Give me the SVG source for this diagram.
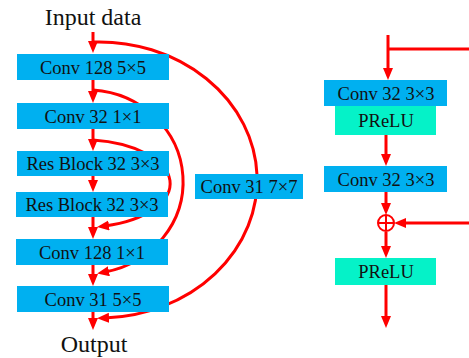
<svg xmlns="http://www.w3.org/2000/svg" width="469" height="358" viewBox="0 0 469 358">
  <style>
    .conv { fill: #00B0F0; }
    .act { fill: #05F2C8; }
    text { font-family: 'Liberation Serif', 'DejaVu Serif', serif; fill: #111; text-anchor: middle; }
    .lbl { font-size: 18.5px; }
    .io { font-size: 24px; }
    .wire { fill: none; stroke: #FF0000; stroke-width: 3; }
    .arr { marker-end: url(#head); }
  </style>
  <defs>
    <marker id="head" markerUnits="userSpaceOnUse" markerWidth="13" markerHeight="11" refX="4" refY="5" orient="auto">
      <path d="M0,0 L12,5 L0,10 z" fill="#FF0000"/>
    </marker>
  </defs>

  <!-- connectors (drawn first so the boxes sit on top) -->
  <g id="connectors">
    <!-- left network: main trunk -->
    <line class="wire arr" x1="93" y1="32" x2="93" y2="45"/>
    <line class="wire arr" x1="93" y1="80" x2="93" y2="95"/>
    <line class="wire arr" x1="93" y1="129" x2="93" y2="143"/>
    <line class="wire arr" x1="93" y1="176" x2="93" y2="184"/>
    <line class="wire arr" x1="93" y1="217" x2="93" y2="231"/>
    <line class="wire arr" x1="93" y1="265" x2="93" y2="278"/>
    <line class="wire arr" x1="93" y1="312" x2="93" y2="322"/>
    <!-- left network: skip arcs -->
    <path class="wire arr" d="M93,42 A158,138 0 0 1 105,318"/>
    <path class="wire arr" d="M93,90 A97,92 0 0 1 105,272"/>
    <path class="wire arr" d="M93,140 A89,44 0 0 1 105,226"/>

    <!-- residual block -->
    <line class="wire" x1="388" y1="49" x2="469" y2="49"/>
    <line class="wire arr" x1="388" y1="35" x2="388" y2="72"/>
    <line class="wire arr" x1="386" y1="135" x2="386" y2="158"/>
    <line class="wire arr" x1="386" y1="192" x2="386" y2="207"/>
    <line class="wire arr" x1="469" y1="223" x2="402" y2="223"/>
    <line class="wire arr" x1="386" y1="232" x2="386" y2="250"/>
    <line class="wire arr" x1="386" y1="285" x2="386" y2="320"/>
  </g>

  <g id="input"><text class="io" x="93" y="25" font-family="Liberation Serif, serif">Input data</text></g>
  <g id="output"><text class="io" x="94" y="352" font-family="Liberation Serif, serif">Output</text></g>

  <g id="conv128-5x5">
    <rect class="conv" x="17" y="54" width="152" height="26"/>
    <text class="lbl" x="93" y="73.5">Conv 128 5×5</text>
  </g>
  <g id="conv32-1x1">
    <rect class="conv" x="17" y="103" width="152" height="26"/>
    <text class="lbl" x="93" y="122.5">Conv 32 1×1</text>
  </g>
  <g id="resblock-1">
    <rect class="conv" x="17" y="151" width="152" height="25"/>
    <text class="lbl" x="93" y="170">Res Block 32 3×3</text>
  </g>
  <g id="resblock-2">
    <rect class="conv" x="16" y="192" width="152" height="25"/>
    <text class="lbl" x="92" y="211">Res Block 32 3×3</text>
  </g>
  <g id="conv128-1x1">
    <rect class="conv" x="16" y="239" width="152" height="26"/>
    <text class="lbl" x="92" y="258.5">Conv 128 1×1</text>
  </g>
  <g id="conv31-5x5">
    <rect class="conv" x="17" y="286" width="152" height="26"/>
    <text class="lbl" x="93" y="305.5">Conv 31 5×5</text>
  </g>
  <g id="conv31-7x7">
    <rect class="conv" x="195" y="174" width="108" height="25"/>
    <text class="lbl" x="249" y="193">Conv 31 7×7</text>
  </g>

  <g id="rb-conv-1">
    <rect class="conv" x="324" y="80" width="123" height="26"/>
    <text class="lbl" x="386" y="99.5">Conv 32 3×3</text>
  </g>
  <g id="rb-prelu-1">
    <rect class="act" x="335" y="106" width="101" height="29"/>
    <text class="lbl" x="386" y="127">PReLU</text>
  </g>
  <g id="rb-conv-2">
    <rect class="conv" x="324" y="166" width="123" height="26"/>
    <text class="lbl" x="386" y="185.5">Conv 32 3×3</text>
  </g>
  <g id="rb-sum">
    <circle cx="386" cy="223" r="8" fill="none" stroke="#FF0000" stroke-width="2"/>
    <line x1="378" y1="223" x2="394" y2="223" stroke="#FF0000" stroke-width="2"/>
    <line x1="386" y1="215" x2="386" y2="231" stroke="#FF0000" stroke-width="2"/>
  </g>
  <g id="rb-prelu-2">
    <rect class="act" x="335" y="258" width="101" height="27"/>
    <text class="lbl" x="386" y="278">PReLU</text>
  </g>
</svg>
